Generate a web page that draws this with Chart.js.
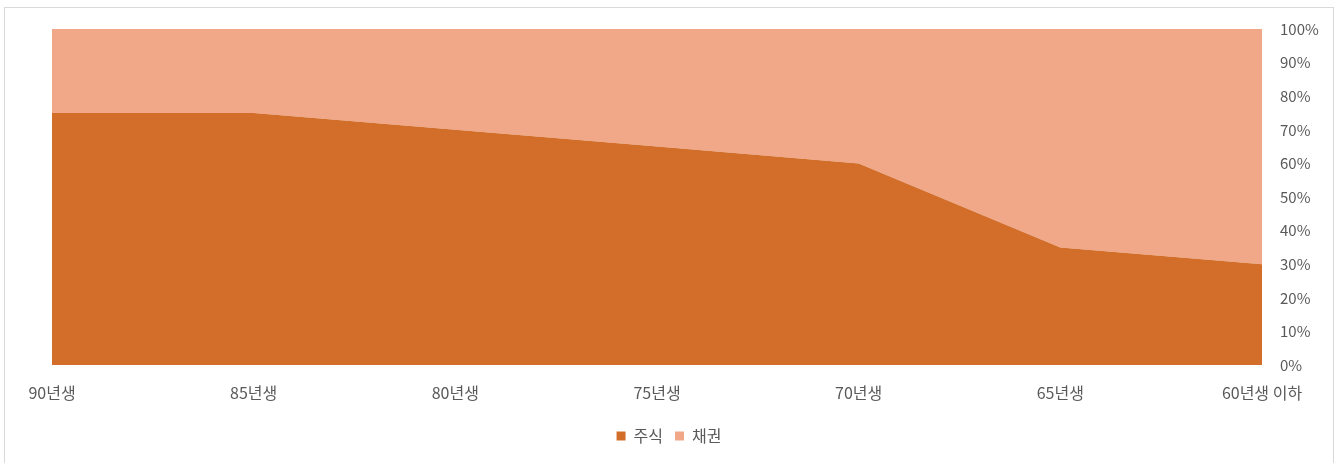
<!DOCTYPE html>
<html>
<head>
<meta charset="utf-8">
<script src="https://cdn.jsdelivr.net/npm/chart.js@4.4.0/dist/chart.umd.min.js"></script>
<style>
  html, body { margin: 0; padding: 0; background: #fff; }
  #wrap {
    position: absolute; left: 4px; top: 7px;
    width: 1328px; height: 460px;
    border: 1px solid #d9d9d9; background: #fff;
  }
  canvas { display: block; margin-top: 2px; }
</style>
</head>
<body>
<div id="wrap"><canvas id="chart" width="1328" height="458"></canvas></div>
<script>
// 연령대별 주식/채권 비중 (%)
const labels = ['90년생', '85년생', '80년생', '75년생', '70년생', '65년생', '60년생 이하'];
const stocks = [75, 75, 70, 65, 60, 35, 30];
const bonds = [25, 25, 30, 35, 40, 65, 70];
const yTicks = [0, 10, 20, 30, 40, 50, 60, 70, 80, 90, 100];

const FONT = '"Noto Sans CJK KR", "Noto Sans", sans-serif';
const GREY = '#595959';

const ctx = document.getElementById('chart').getContext('2d');
new Chart(ctx, {
  type: 'line',
  data: {
    labels: labels,
    datasets: [
      { label: '주식', data: stocks, yAxisID: 'y', backgroundColor: '#d26e2a', borderColor: '#d26e2a',
        borderWidth: 0, pointRadius: 0, fill: 'origin', tension: 0 },
      { label: '채권', data: bonds, yAxisID: 'y', backgroundColor: '#f0a889', borderColor: '#f0a889',
        borderWidth: 0, pointRadius: 0, fill: '-1', tension: 0 }
    ]
  },
  options: {
    responsive: false,
    animation: false,
    layout: { padding: { top: 17, left: 0, right: 0, bottom: 14 } },
    plugins: {
      tooltip: { enabled: false },
      legend: {
        position: 'bottom',
        labels: {
          color: GREY, font: { family: FONT, size: 16 },
          boxWidth: 9, boxHeight: 9, padding: 12
        }
      }
    },
    scales: {
      x: {
        offset: false,
        grid: { display: false },
        border: { display: false },
        ticks: { color: GREY, font: { family: FONT, size: 16 }, padding: 10, maxRotation: 0, autoSkip: false },
        afterFit: s => { s.height = 51; }
      },
      // empty left axis, only to keep the gap left of the plot
      left: {
        position: 'left',
        min: 0, max: 100,
        grid: { display: false },
        border: { display: false },
        ticks: { display: false },
        afterFit: s => { s.width = 47; }
      },
      y: {
        position: 'right',
        stacked: true,
        min: 0, max: 100,
        afterBuildTicks: s => { s.ticks = yTicks.map(v => ({ value: v })); },
        grid: { display: false },
        border: { display: false },
        ticks: { color: GREY, font: { family: FONT, size: 15 }, padding: 10, callback: v => v + '%' },
        afterFit: s => { s.width = 71; }
      }
    }
  }
});
</script>
</body>
</html>
